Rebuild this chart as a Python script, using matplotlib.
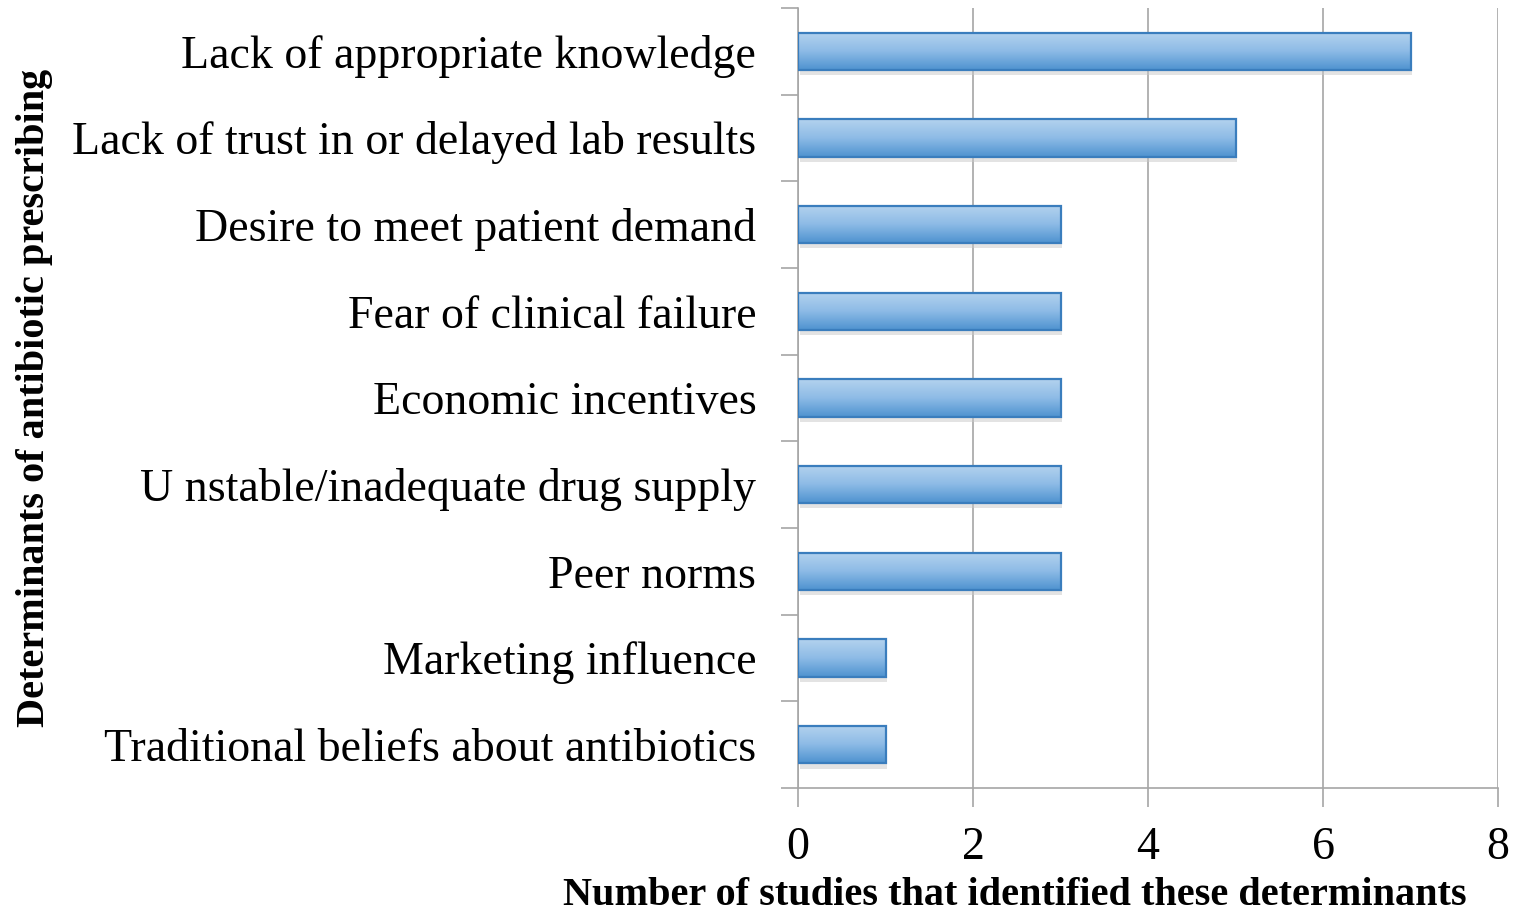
import numpy as np
import matplotlib

matplotlib.use("Agg")
import matplotlib.pyplot as plt
from matplotlib.colors import LinearSegmentedColormap

categories = [
    "Lack of appropriate knowledge",
    "Lack of trust in or delayed lab results",
    "Desire to meet patient demand",
    "Fear of clinical failure",
    "Economic incentives",
    "U nstable/inadequate drug supply",
    "Peer norms",
    "Marketing influence",
    "Traditional beliefs about antibiotics",
]
counts = [7, 5, 3, 3, 3, 3, 3, 1, 1]
xticks = [0, 2, 4, 6, 8]

SERIF = ["Liberation Serif", "DejaVu Serif"]
GRID = "#a6a6a6"
grad = LinearSegmentedColormap.from_list("bar", ["#b3d2ee", "#8dbbe6", "#4f93d0"])

fig = plt.figure(figsize=(15.14, 9.13), dpi=100)
ax = fig.add_axes([798 / 1514, 1 - 788 / 913, 700 / 1514, 780 / 913])

n = len(categories)
ys = np.arange(n)[::-1]
h = 0.43
bars = ax.barh(ys, counts, height=h, color="none", edgecolor="#3a7dbd", lw=1.6, zorder=4)
g = np.linspace(0, 1, 64).reshape(-1, 1)
for b in bars:
    x0, y0, w, hh = b.get_x(), b.get_y(), b.get_width(), b.get_height()
    # soft shadow
    ax.add_patch(plt.Rectangle((x0 + 0.02, y0 - 0.06), w, hh, color="#c9c9c9", alpha=0.5, lw=0, zorder=2))
    ax.imshow(g, cmap=grad, aspect="auto", extent=(x0, x0 + w, y0, y0 + hh), zorder=3)

ax.set_xlim(0, 8)
ax.set_ylim(-0.5, n - 0.5)
ax.set_xticks(xticks)
ax.set_xticklabels([str(t) for t in xticks], fontsize=33, family=SERIF)
ax.set_yticks(ys)
ax.set_yticklabels(categories, fontsize=33, family=SERIF)
ax.tick_params(axis="y", length=0, pad=30)
ax.tick_params(axis="x", length=14, width=1.2, color=GRID, pad=14, direction="out")
ax.set_yticks(np.arange(n + 1) - 0.5, minor=True)
ax.tick_params(axis="y", which="minor", length=12, width=1.2, color=GRID)
ax.grid(True, axis="x", color=GRID, lw=1.2, zorder=0)
ax.set_axisbelow(True)
for s in ["top", "right"]:
    ax.spines[s].set_visible(False)
for s in ["left", "bottom"]:
    ax.spines[s].set_color(GRID)
    ax.spines[s].set_linewidth(1.2)

fig.text(1015 / 1514, 1 - 895 / 913, "Number of studies that identified these determinants",
         fontsize=29, family=SERIF, fontweight="bold", ha="center", va="center")
fig.text(35 / 1514, 1 - 398 / 913, "Determinants of antibiotic prescribing", rotation=90,
         fontsize=29, family=SERIF, fontweight="bold", ha="center", va="center")

fig.savefig("out.png", dpi=100)
